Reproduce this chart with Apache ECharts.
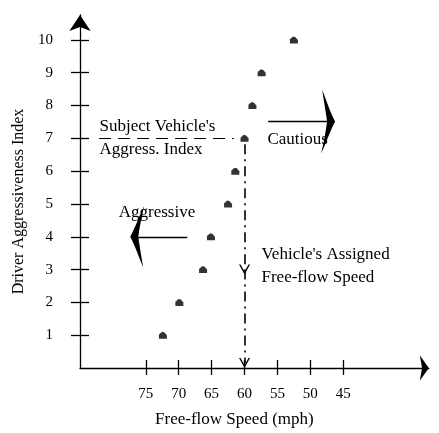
<!DOCTYPE html>
<html>
<head>
<meta charset="utf-8">
<script src="https://cdn.jsdelivr.net/npm/echarts@6/dist/echarts.min.js"></script>
<style>
html,body{margin:0;padding:0;background:#fff;}
#chart{width:439px;height:433px;}
</style>
</head>
<body>
<div id="chart"></div>
<script>
// ---- data ----
const aggressIndex = [1, 2, 3, 4, 5, 6, 7, 8, 9, 10];
const freeFlowSpeed = [72.4, 69.9, 66.3, 65.1, 62.5, 61.4, 60.0, 58.8, 57.4, 52.5];
const xTickValues = [75, 70, 65, 60, 55, 50, 45];
const yTickValues = [1, 2, 3, 4, 5, 6, 7, 8, 9, 10];
const subjectIndex = 7;
const assignedSpeed = 60;
const xAxisName = 'Free-flow Speed (mph)';
const yAxisName = 'Driver Aggressiveness Index';
const subjectText = "Subject Vehicle's\nAggress. Index";
const aggressiveText = 'Aggressive';
const cautiousText = 'Cautious';
const assignedText = "Vehicle's Assigned\nFree-flow Speed";

// ---- styling ----
const FONT = 'Liberation Serif';
const BLACK = '#000';
const chevron = 'path://M31,0 C24,4 10,9 0,13 C12,11 24,9 31,8 C38,9 50,11 62,14 C52,9 38,4 31,0 Z';
const vArrow = 'path://M5,0 L10,10 L8.6,10 L5,3.2 L1.4,10 L0,10 Z';
const dot = 'path://M0,10 L0,4 L4,0 L7,1 L10,5 L10,10 Z';

const chart = echarts.init(document.getElementById('chart'), null, {renderer: 'canvas'});

function xAxisBase(extra) {
  return Object.assign({
    type: 'value', inverse: true, min: 32, max: 85, position: 'bottom',
    splitLine: {show: false}
  }, extra);
}
function yAxisBase(extra) {
  return Object.assign({
    type: 'value', min: 0, max: 10.76, position: 'left',
    splitLine: {show: false}
  }, extra);
}
const tickStyle = {color: BLACK, width: 1.3};

const option = {
  animation: false,
  backgroundColor: '#fff',
  grid: {left: 80, right: 10.2, top: 15, bottom: 64.7},
  xAxis: [
    xAxisBase({
      axisLine: {show: true, onZero: false, symbol: ['none', 'arrow'], symbolSize: [19, 9], lineStyle: {color: BLACK, width: 1.3}},
      axisTick: {show: true, customValues: xTickValues, length: 7, lineStyle: tickStyle},
      axisLabel: {show: true, customValues: xTickValues, margin: 19, color: BLACK, fontFamily: FONT, fontSize: 15},
      name: xAxisName, nameLocation: 'middle', nameGap: 43,
      nameTextStyle: {color: BLACK, fontFamily: FONT, fontSize: 17, padding: [0, 40, 0, 0]}
    }),
    xAxisBase({
      axisLine: {show: false, onZero: false},
      axisTick: {show: true, inside: true, customValues: xTickValues, length: 8, lineStyle: tickStyle},
      axisLabel: {show: false}
    })
  ],
  yAxis: [
    yAxisBase({
      axisLine: {show: true, onZero: false, symbol: ['none', 'arrow'], symbolSize: [16, 16], lineStyle: {color: BLACK, width: 1.3}},
      axisTick: {show: true, customValues: yTickValues, length: 9, lineStyle: tickStyle},
      axisLabel: {show: true, customValues: yTickValues, margin: 27, color: BLACK, fontFamily: FONT, fontSize: 15},
      name: yAxisName, nameLocation: 'middle', nameGap: 49, nameRotate: 90,
      nameTextStyle: {color: BLACK, fontFamily: FONT, fontSize: 16, padding: [0, 20, 0, 0]}
    }),
    yAxisBase({
      axisLine: {show: false, onZero: false},
      axisTick: {show: true, inside: true, customValues: yTickValues, length: 9, lineStyle: tickStyle},
      axisLabel: {show: false}
    })
  ],
  series: [{
    type: 'scatter',
    xAxisIndex: 0, yAxisIndex: 0,
    symbol: dot,
    symbolSize: [8, 7],
    itemStyle: {color: BLACK},
    data: freeFlowSpeed.map((s, i) => [s, aggressIndex[i]]),
    z: 5,
    markLine: {
      silent: true,
      animation: false,
      symbol: ['none', 'none'],
      label: {show: false},
      lineStyle: {color: BLACK, width: 1.2, type: 'solid'},
      data: [
        [ {coord: [82.1, subjectIndex], lineStyle: {type: [12, 7], width: 1, color: BLACK}},
          {coord: [61.6, subjectIndex]} ],
        [ {coord: [assignedSpeed, 6.82], lineStyle: {type: [10, 5, 2, 5], width: 1.6, color: BLACK}},
          {coord: [assignedSpeed, 3.0], symbol: vArrow, symbolSize: [11, 10]} ],
        [ {coord: [assignedSpeed, 3.0], lineStyle: {type: [10, 5, 2, 5], width: 1.6, color: BLACK}},
          {coord: [assignedSpeed, 0.15], symbol: vArrow, symbolSize: [11, 10]} ],
        [ {coord: [68.7, 4], lineStyle: {type: 'solid', width: 1.3, color: BLACK}},
          {coord: [76.3, 4], symbol: chevron, symbolSize: [62, 14]} ],
        [ {coord: [56.4, 7.51], lineStyle: {type: 'solid', width: 1.3, color: BLACK}},
          {coord: [47.3, 7.51], symbol: chevron, symbolSize: [64, 14]} ]
      ]
    },
    markPoint: {
      silent: true,
      animation: false,
      symbol: 'rect',
      symbolSize: 1,
      itemStyle: {color: 'rgba(0,0,0,0)'},
      label: {show: true, color: BLACK, fontFamily: FONT, fontSize: 17, lineHeight: 23},
      data: [
        {coord: [82.1, 7.0], label: {formatter: subjectText, position: 'right', distance: 0}},
        {coord: [73.3, 4.73], label: {formatter: aggressiveText, position: 'inside'}},
        {coord: [56.6, 6.95], label: {formatter: cautiousText, position: 'right', distance: 0}},
        {coord: [57.5, 3.1], label: {formatter: assignedText, position: 'right', distance: 0}}
      ]
    }
  }]
};
chart.setOption(option);
</script>
</body>
</html>
